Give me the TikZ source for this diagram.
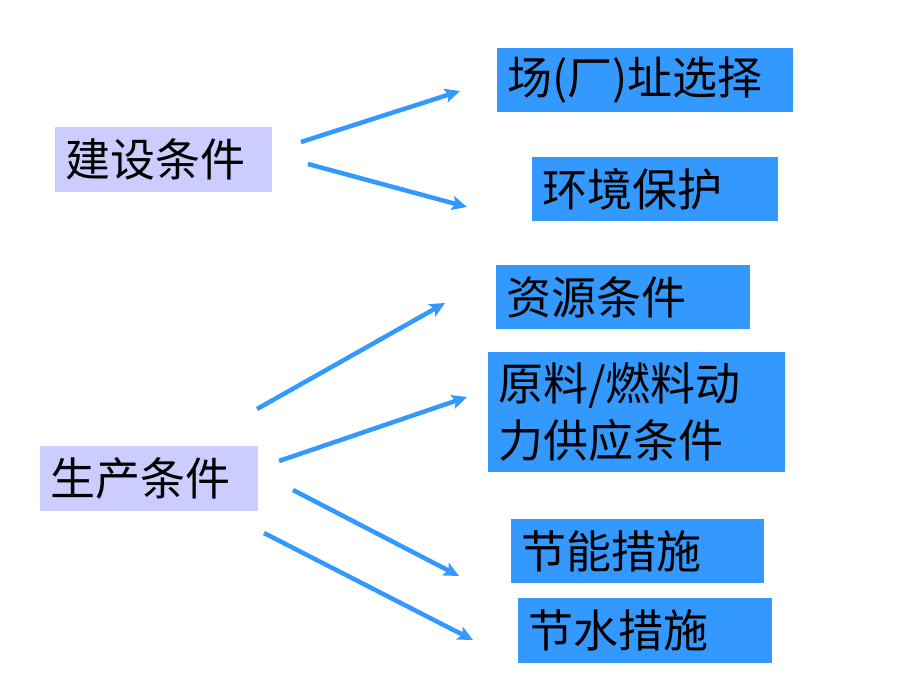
\documentclass[tikz,border=0pt]{standalone}
\usepackage{fontspec}
\newfontfamily\cjk{Noto Sans CJK SC}
\usetikzlibrary{arrows.meta}
\definecolor{boxblue}{RGB}{51,153,255}
\definecolor{lilac}{RGB}{204,204,255}

\begin{document}
\begin{tikzpicture}[x=1pt,y=-1pt,box/.style={rectangle,anchor=west,inner xsep=10pt,inner ysep=0pt,align=left,font=\cjk\fontsize{45}{57}\selectfont},
  blue node/.style={box,fill=boxblue},lilac node/.style={box,fill=lilac},
  arrow/.style={-{Stealth[length=15pt,width=14pt,inset=3pt]},line width=4.5pt,color=boxblue}]

  \useasboundingbox (0,0) rectangle (920,690);

  \node[lilac node,text width=197pt,minimum height=65pt] (1) at (55,159.5) {建设条件};
  \node[lilac node,text width=198pt,minimum height=65pt] (2) at (40,478.5) {生产条件};

  \node[blue node,text width=276pt,minimum height=64pt] (3) at (497,80) {场(厂)址选择};
  \node[blue node,text width=226pt,minimum height=64pt] (4) at (532,189) {环境保护};
  \node[blue node,text width=234pt,minimum height=64pt] (5) at (496,297) {资源条件};
  \node[blue node,text width=277pt,minimum height=120pt] (6) at (488,412) {原料/燃料动\\力供应条件};
  \node[blue node,text width=233pt,minimum height=64pt] (7) at (511,551) {节能措施};
  \node[blue node,text width=234pt,minimum height=65pt] (8) at (518,630.5) {节水措施};

  % free ends of the arrows
  \coordinate (1a) at (301,142);  \coordinate (3a) at (460,91);
  \coordinate (1b) at (308,164);  \coordinate (4a) at (467,207);
  \coordinate (2a) at (257,409);  \coordinate (5a) at (445,303);
  \coordinate (2b) at (279,461);  \coordinate (6a) at (467,397);
  \coordinate (2c) at (293,490);  \coordinate (7a) at (459,576);
  \coordinate (2d) at (264,533);  \coordinate (8a) at (473,640);

  \path[arrow]
    (1a) edge (3a)
    (1b) edge (4a)
    (2a) edge (5a)
    (2b) edge (6a)
    (2c) edge (7a)
    (2d) edge (8a);
\end{tikzpicture}
\end{document}
